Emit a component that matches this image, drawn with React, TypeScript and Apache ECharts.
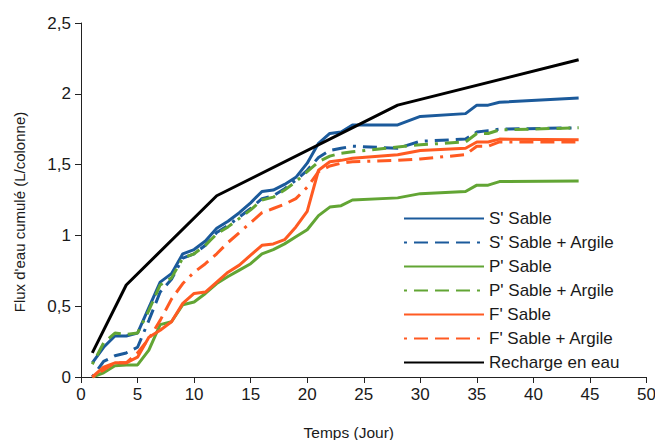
import React, { useEffect, useRef } from "react";
import * as echarts from "echarts";

const days = [1, 2, 3, 4, 5, 6, 7, 8, 9, 10, 11, 12, 13, 14, 15, 16, 17, 18, 19, 20, 21, 22, 23, 24, 28, 30, 34, 35, 36, 37, 44];
const sSable = [0.10, 0.21, 0.29, 0.29, 0.31, 0.49, 0.67, 0.73, 0.87, 0.90, 0.96, 1.05, 1.10, 1.16, 1.23, 1.31, 1.32, 1.36, 1.41, 1.51, 1.65, 1.72, 1.73, 1.78, 1.78, 1.84, 1.86, 1.92, 1.92, 1.94, 1.97];
const sSableArgile = [0.00, 0.11, 0.15, 0.17, 0.21, 0.40, 0.60, 0.69, 0.84, 0.87, 0.93, 1.02, 1.07, 1.13, 1.19, 1.26, 1.28, 1.33, 1.39, 1.46, 1.55, 1.60, 1.615, 1.63, 1.615, 1.665, 1.68, 1.73, 1.74, 1.75, 1.76];
const pSable = [0.00, 0.03, 0.08, 0.085, 0.085, 0.19, 0.37, 0.39, 0.51, 0.53, 0.59, 0.66, 0.71, 0.755, 0.80, 0.87, 0.90, 0.94, 0.99, 1.04, 1.14, 1.20, 1.21, 1.25, 1.265, 1.295, 1.31, 1.355, 1.355, 1.38, 1.385];
const pSableArgile = [0.09, 0.24, 0.31, 0.30, 0.31, 0.47, 0.65, 0.70, 0.84, 0.87, 0.93, 1.01, 1.06, 1.12, 1.18, 1.25, 1.27, 1.32, 1.38, 1.45, 1.52, 1.56, 1.58, 1.59, 1.625, 1.64, 1.66, 1.72, 1.72, 1.745, 1.76];
const fSable = [0.00, 0.07, 0.10, 0.10, 0.14, 0.28, 0.33, 0.39, 0.52, 0.59, 0.60, 0.67, 0.74, 0.79, 0.86, 0.93, 0.94, 0.97, 1.06, 1.17, 1.46, 1.52, 1.53, 1.545, 1.57, 1.60, 1.615, 1.66, 1.66, 1.68, 1.675];
const fSableArgile = [0.00, 0.05, 0.10, 0.10, 0.17, 0.27, 0.40, 0.55, 0.66, 0.74, 0.80, 0.87, 0.95, 1.02, 1.09, 1.16, 1.19, 1.22, 1.26, 1.34, 1.45, 1.49, 1.51, 1.52, 1.53, 1.54, 1.57, 1.63, 1.63, 1.66, 1.66];
const rechargeDays = [1, 4, 12, 28, 44];
const recharge = [0.17, 0.65, 1.28, 1.92, 2.24];

const seriesNames = [
  "S' Sable",
  "S' Sable + Argile",
  "P' Sable",
  "P' Sable + Argile",
  "F' Sable",
  "F' Sable + Argile",
  "Recharge en eau",
];

const BLUE = "#1b5a9b";
const GREEN = "#62a534";
const ORANGE = "#ff5a22";
const BLACK = "#000000";
const FONT = "'Liberation Sans', Arial, Helvetica, sans-serif";
const DASH = [3, 7, 14, 7, 14, 7, 14, 7];

const pairs = (xs: number[], ys: number[]) => xs.map((x, i) => [x, ys[i]]);

export default function App() {
  const ref = useRef<HTMLDivElement>(null);
  useEffect(() => {
    if (!ref.current) return;
    const chart = echarts.init(ref.current, null, { renderer: "svg" });
    const mk = (name: string, data: number[][], color: string, dashed: boolean) => ({
      name,
      type: "line",
      data,
      symbol: "none",
      showSymbol: false,
      smooth: false,
      itemStyle: { color },
      lineStyle: { color, width: 3, type: dashed ? DASH : "solid" },
    });
    chart.setOption({
      animation: false,
      backgroundColor: "#ffffff",
      grid: { left: 81, right: 8.5, top: 23, bottom: 63, containLabel: false, outerBoundsMode: "none" },
      legend: {
        orient: "vertical",
        left: 403,
        top: 210,
        padding: 0,
        itemWidth: 80,
        itemHeight: 14,
        itemGap: 7,
        data: seriesNames,
        itemStyle: { opacity: 0, borderWidth: 0 },
        textStyle: { fontFamily: FONT, fontSize: 17, color: "#1a1a1a" },
        backgroundColor: "transparent",
      },
      xAxis: {
        type: "value",
        min: 0,
        max: 50,
        interval: 5,
        name: "Temps (Jour)",
        nameLocation: "middle",
        nameGap: 47,
        nameTextStyle: { fontFamily: FONT, fontSize: 15.5, color: "#1a1a1a", padding: [0, 30, 0, 0] },
        axisLine: { show: true, onZero: false, lineStyle: { color: "#222", width: 1 } },
        axisTick: { show: true, length: 6, lineStyle: { color: "#222" } },
        axisLabel: { margin: 9, fontFamily: FONT, fontSize: 17, color: "#1a1a1a" },
        splitLine: { show: false },
      },
      yAxis: {
        type: "value",
        min: 0,
        max: 2.5,
        interval: 0.5,
        name: "Flux d'eau cumulé (L/colonne)",
        nameLocation: "middle",
        nameGap: 54,
        nameTextStyle: { fontFamily: FONT, fontSize: 15, color: "#1a1a1a", padding: [0, 24, 0, 0] },
        axisLine: { show: true, lineStyle: { color: "#222", width: 1 } },
        axisTick: { show: true, length: 6, lineStyle: { color: "#222" } },
        axisLabel: {
          margin: 10,
          fontFamily: FONT,
          fontSize: 17,
          color: "#1a1a1a",
          formatter: (v: number) => String(v).replace(".", ","),
        },
        splitLine: { show: false },
      },
      series: [
        mk(seriesNames[0], pairs(days, sSable), BLUE, false),
        mk(seriesNames[1], pairs(days, sSableArgile), BLUE, true),
        mk(seriesNames[2], pairs(days, pSable), GREEN, false),
        mk(seriesNames[3], pairs(days, pSableArgile), GREEN, true),
        mk(seriesNames[4], pairs(days, fSable), ORANGE, false),
        mk(seriesNames[5], pairs(days, fSableArgile), ORANGE, true),
        mk(seriesNames[6], pairs(rechargeDays, recharge), BLACK, false),
      ],
    });
    return () => chart.dispose();
  }, []);
  return (
    <div
      ref={ref}
      style={{ position: "fixed", left: 0, top: 0, width: 655, height: 440, background: "#fff" }}
    />
  );
}
